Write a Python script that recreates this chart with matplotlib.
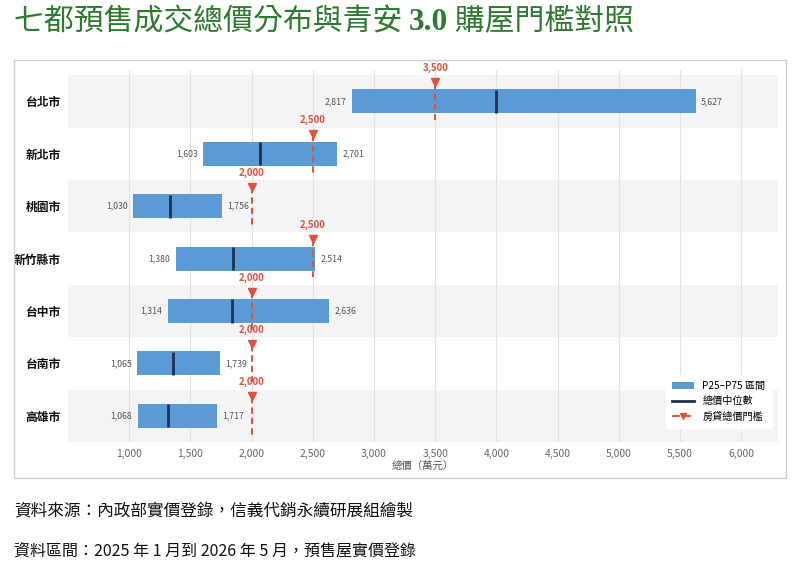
import matplotlib
matplotlib.use("Agg")
import matplotlib.pyplot as plt
from matplotlib.patches import Patch, Rectangle
from matplotlib.lines import Line2D
from matplotlib.ticker import FuncFormatter

plt.rcParams['font.family'] = ['Noto Sans CJK TC', 'DejaVu Sans']

cities = ['台北市', '新北市', '桃園市', '新竹縣市', '台中市', '台南市', '高雄市']
p25 = [2817, 1603, 1030, 1380, 1314, 1065, 1068]
p75 = [5627, 2701, 1756, 2514, 2636, 1739, 1717]
median = [4000, 2070, 1335, 1845, 1836, 1355, 1313]
threshold = [3500, 2500, 2000, 2500, 2000, 2000, 2000]
xticks = [1000, 1500, 2000, 2500, 3000, 3500, 4000, 4500, 5000, 5500, 6000]

bar_c = '#5b9bd5'
med_c = '#1b3350'
red_c = '#e0533f'
band_c = '#f3f4f6'

W, H = 800, 565
fig = plt.figure(figsize=(8, 5.65), dpi=100)

# outer frame
fig.add_artist(Rectangle((14 / W, 1 - 478 / H), 772 / W, 418 / H, transform=fig.transFigure,
                         fill=False, edgecolor='#cfcfcf', lw=1))

ax = fig.add_axes([68 / W, 1 - 442 / H, 710 / W, 372 / H])
y = list(range(len(cities)))

for i in y:
    if i % 2 == 0:
        ax.axhspan(i - 0.5, i + 0.5, color=band_c, zorder=0, lw=0)

ax.barh(y, [b - a for a, b in zip(p25, p75)], left=p25, height=0.46, color=bar_c, zorder=2)
ax.vlines(median, [i - 0.22 for i in y], [i + 0.22 for i in y], color=med_c, lw=2, zorder=3)

for i in y:
    ax.annotate(f'{p25[i]:,}', (p25[i], i), xytext=(-4, 0), textcoords='offset points',
                ha='right', va='center', fontsize=6.3, color='#555555')
    ax.annotate(f'{p75[i]:,}', (p75[i], i), xytext=(4, 0), textcoords='offset points',
                ha='left', va='center', fontsize=6.3, color='#555555')
    ax.plot([threshold[i], threshold[i]], [i - 0.36, i + 0.36], color=red_c, lw=1.5,
            ls=(0, (3, 2)), zorder=4)
    ax.plot(threshold[i], i - 0.37, marker='v', color=red_c, markersize=6, zorder=5)
    ax.text(threshold[i], i - 0.64, f'{threshold[i]:,}', ha='center', va='center',
            fontsize=7, fontweight='bold', color=red_c)

ax.set_xlim(500, 6300)
ax.set_ylim(6.5, -0.6)
ax.set_xticks(xticks)
ax.xaxis.set_major_formatter(FuncFormatter(lambda v, p: f'{int(v):,}'))
ax.set_yticks(y)
ax.set_yticklabels(cities, fontsize=8.5, fontweight='bold', color='#111111')
ax.tick_params(axis='x', length=0, pad=5, labelsize=7.5, labelcolor='#666666')
ax.tick_params(axis='y', length=0, pad=5)
ax.set_axisbelow(True)
ax.grid(axis='x', color='#e3e3e3', lw=0.8, zorder=0.5)
for s in ax.spines.values():
    s.set_visible(False)
ax.set_xlabel('總價（萬元）', fontsize=7.5, color='#555555', labelpad=1)

handles = [Patch(facecolor=bar_c), Line2D([0], [0], color=med_c, lw=2),
           Line2D([0], [0], color=red_c, lw=1.5, ls='--', marker='v', markersize=5)]
ax.legend(handles, ['P25–P75 區間', '總價中位數', '房貸總價門檻'], loc='lower right',
          bbox_to_anchor=(0.998, 0.025), fontsize=7.3, frameon=True, facecolor='white',
          edgecolor='white', framealpha=1, handlelength=2.2, borderpad=0.6)

# title with mixed fonts
renderer = fig.canvas.get_renderer()
x = 14 / W
ty = 1 - 22 / H
green = '#2e7a2e'
parts = [('七都預售成交總價分布與青安 ', dict(fontsize=21.5)),
         ('3.0', dict(fontsize=22.5, family='Liberation Serif', fontweight='bold')),
         (' 購屋門檻對照', dict(fontsize=21.5))]
for txt, kw in parts:
    t = fig.text(x, ty, txt, ha='left', va='center', color=green, **kw)
    bb = t.get_window_extent(renderer)
    x = bb.x1 / W

fig.text(14 / W, 1 - 511 / H, '資料來源：內政部實價登錄，信義代銷永續研展組繪製', fontsize=12,
         va='center', color='#111111')
fig.text(14 / W, 1 - 551 / H, '資料區間：2025 年 1 月到 2026 年 5 月，預售屋實價登錄', fontsize=11.5,
         va='center', color='#111111')

fig.savefig('out.png', dpi=100)
